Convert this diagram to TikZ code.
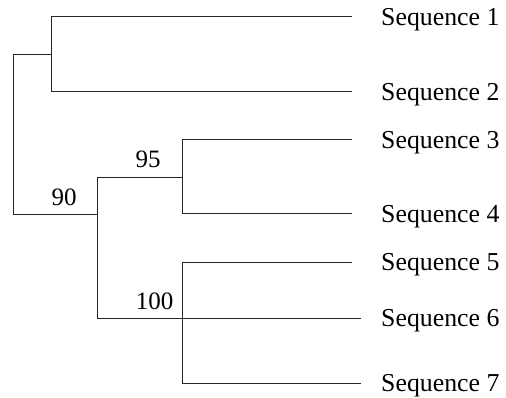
\documentclass[tikz,border=0pt]{standalone}
\usepackage{fontspec}
\setmainfont{Liberation Serif}
\begin{document}
\begin{tikzpicture}[x=1pt,y=-1pt,
  lbl/.style={font=\fontsize{25}{30}\selectfont, inner sep=0pt},
  leaf/.style={font=\fontsize{25.8}{30}\selectfont, inner sep=0pt, anchor=base west},
  boot/.style={lbl, anchor=base},
  branch/.style={line width=1pt, black!85}]
\useasboundingbox (0,0) rectangle (506,398);
% leaf labels
\node[leaf] (s1) at (381,25.7) {Sequence 1};
\node[leaf] (s2) at (381,100.7) {Sequence 2};
\node[leaf] (s3) at (381,148.7) {Sequence 3};
\node[leaf] (s4) at (381,222.7) {Sequence 4};
\node[leaf] (s5) at (381,270.7) {Sequence 5};
\node[leaf] (s6) at (381,326.7) {Sequence 6};
\node[leaf] (s7) at (381,391.7) {Sequence 7};
% leaf ends
\coordinate (e1) at (352,17);
\coordinate (e2) at (352,92);
\coordinate (e3) at (352,140);
\coordinate (e4) at (352,214);
\coordinate (e5) at (352,262);
\coordinate (e6) at (361,318);
\coordinate (e7) at (361,383);
% internal nodes
\coordinate (rt) at (13,55);
\coordinate (rb) at (13,215);
\coordinate (a1) at (51,17);
\coordinate (a2) at (51,92);
\coordinate (am) at (51,55);
\coordinate (b1) at (97,178);
\coordinate (b2) at (97,318);
\coordinate (bm) at (97,215);
\coordinate (c1) at (182,140);
\coordinate (c2) at (182,214);
\coordinate (cm) at (182,178);
\coordinate (d1) at (182,262);
\coordinate (d2) at (182,383);
% branches
\draw[branch] (am) -- (rt) -- (rb) -- (bm);
\draw[branch] (e1) -- (a1) -- (a2) -- (e2);
\draw[branch] (cm) -- (b1) -- (b2) -- (e6);
\draw[branch] (e3) -- (c1) -- (c2) -- (e4);
\draw[branch] (e5) -- (d1) -- (d2) -- (e7);
% bootstrap values
\node[boot] (v90) at (64,206) {90};
\node[boot] (v95) at (148,168) {95};
\node[boot] (v100) at (154.5,309) {100};
\end{tikzpicture}
\end{document}
